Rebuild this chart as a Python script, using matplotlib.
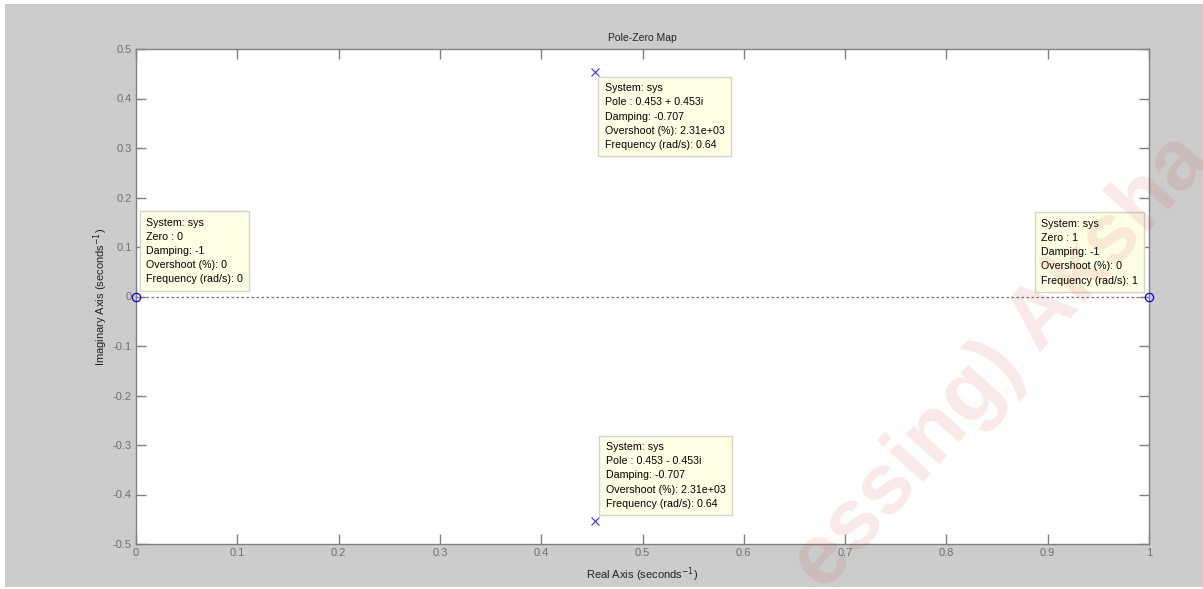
import matplotlib
matplotlib.use("Agg")
import matplotlib.pyplot as plt
from matplotlib.patches import Rectangle

plt.rcParams['font.family'] = ['Liberation Sans', 'DejaVu Sans']

# pole-zero data of sys
zero_re = [0.0, 1.0]
zero_im = [0.0, 0.0]
zero_damping = [-1, -1]
zero_overshoot = ["0", "0"]
zero_freq = ["0", "1"]

pole_re = [0.453, 0.453]
pole_im = [0.453, -0.453]
pole_damping = [-0.707, -0.707]
pole_overshoot = ["2.31e+03", "2.31e+03"]
pole_freq = ["0.64", "0.64"]

x_ticks = [0, 0.1, 0.2, 0.3, 0.4, 0.5, 0.6, 0.7, 0.8, 0.9, 1]
y_ticks = [-0.5, -0.4, -0.3, -0.2, -0.1, 0, 0.1, 0.2, 0.3, 0.4, 0.5]

fig = plt.figure(figsize=(12.03, 5.89), dpi=100, facecolor='white')
fig.patches.append(Rectangle((5 / 1203, 2 / 589), 1 - 5 / 1203, 583 / 589,
                             transform=fig.transFigure, facecolor='#cccccc',
                             edgecolor='none', zorder=-10))

ax = fig.add_axes([136 / 1203, 45 / 589, 1013 / 1203, 495 / 589])
ax.set_facecolor('white')
ax.set_xlim(0, 1)
ax.set_ylim(-0.5, 0.5)

ax.axhline(0, color='#707070', lw=0.9, ls=(0, (2, 2)), zorder=1)
ax.plot(zero_re, zero_im, 'o', mfc='none', mec='#0000ff', ms=6, mew=0.9,
        zorder=3, clip_on=False)
ax.plot(pole_re, pole_im, 'x', color='#3333ff', ms=6, mew=0.8, zorder=3)

for s in ax.spines.values():
    s.set_color('#808080')
    s.set_linewidth(1.0)
ax.set_xticks(x_ticks)
ax.set_yticks(y_ticks)
ax.set_xticklabels(['0', '0.1', '0.2', '0.3', '0.4', '0.5', '0.6', '0.7', '0.8', '0.9', '1'])
ax.set_yticklabels(['-0.5', '-0.4', '-0.3', '-0.2', '-0.1', '0', '0.1', '0.2', '0.3', '0.4', '0.5'])
ax.tick_params(direction='in', length=7, width=1, color='#808080',
               labelcolor='#707070', labelsize=8, top=True, right=True,
               pad=3)

ax.set_title('Pole-Zero Map', fontsize=7.5, color='#222222', pad=6)
ax.set_xlabel('Real Axis (seconds$^{-1}$)', fontsize=8, color='#222222', labelpad=5)
ax.set_ylabel('Imaginary Axis (seconds$^{-1}$)', fontsize=8, color='#222222', labelpad=2)

box = dict(boxstyle='square,pad=0.6', facecolor='#ffffe6', edgecolor='#d4d4c8', lw=1)

# data tips for zeros
zero_offsets = [(10, 12, 'left'), (-11, 11, 'right')]
for i in range(len(zero_re)):
    txt = ("System: sys\nZero : %g\nDamping: %g\nOvershoot (%%): %s\nFrequency (rad/s): %s"
           % (zero_re[i], zero_damping[i], zero_overshoot[i], zero_freq[i]))
    dx, dy, ha = zero_offsets[i]
    ax.annotate(txt, (zero_re[i], zero_im[i]), xytext=(dx, dy),
                textcoords='offset pixels', ha=ha, va='bottom', fontsize=7.7,
                multialignment='left', linespacing=1.52, bbox=box, zorder=5,
                annotation_clip=False)

# data tips for poles
pole_offsets = [(10, -11, 'top'), (11, 12, 'bottom')]
for i in range(len(pole_re)):
    sign = '+' if pole_im[i] >= 0 else '-'
    txt = ("System: sys\nPole : %g %s %gi\nDamping: %g\nOvershoot (%%): %s\nFrequency (rad/s): %s"
           % (pole_re[i], sign, abs(pole_im[i]), pole_damping[i], pole_overshoot[i], pole_freq[i]))
    dx, dy, va = pole_offsets[i]
    ax.annotate(txt, (pole_re[i], pole_im[i]), xytext=(dx, dy),
                textcoords='offset pixels', ha='left', va=va, fontsize=7.7,
                multialignment='left', linespacing=1.52, bbox=box, zorder=5,
                annotation_clip=False)

# watermark
fig.text(1002 / 1203, 1 - 362 / 589, 'essing) Aksha', fontsize=62, fontweight='bold',
         color='#cc3333', alpha=0.11, rotation=48, ha='center', va='center',
         zorder=20)

fig.savefig('out.png', dpi=100, facecolor=fig.get_facecolor())
